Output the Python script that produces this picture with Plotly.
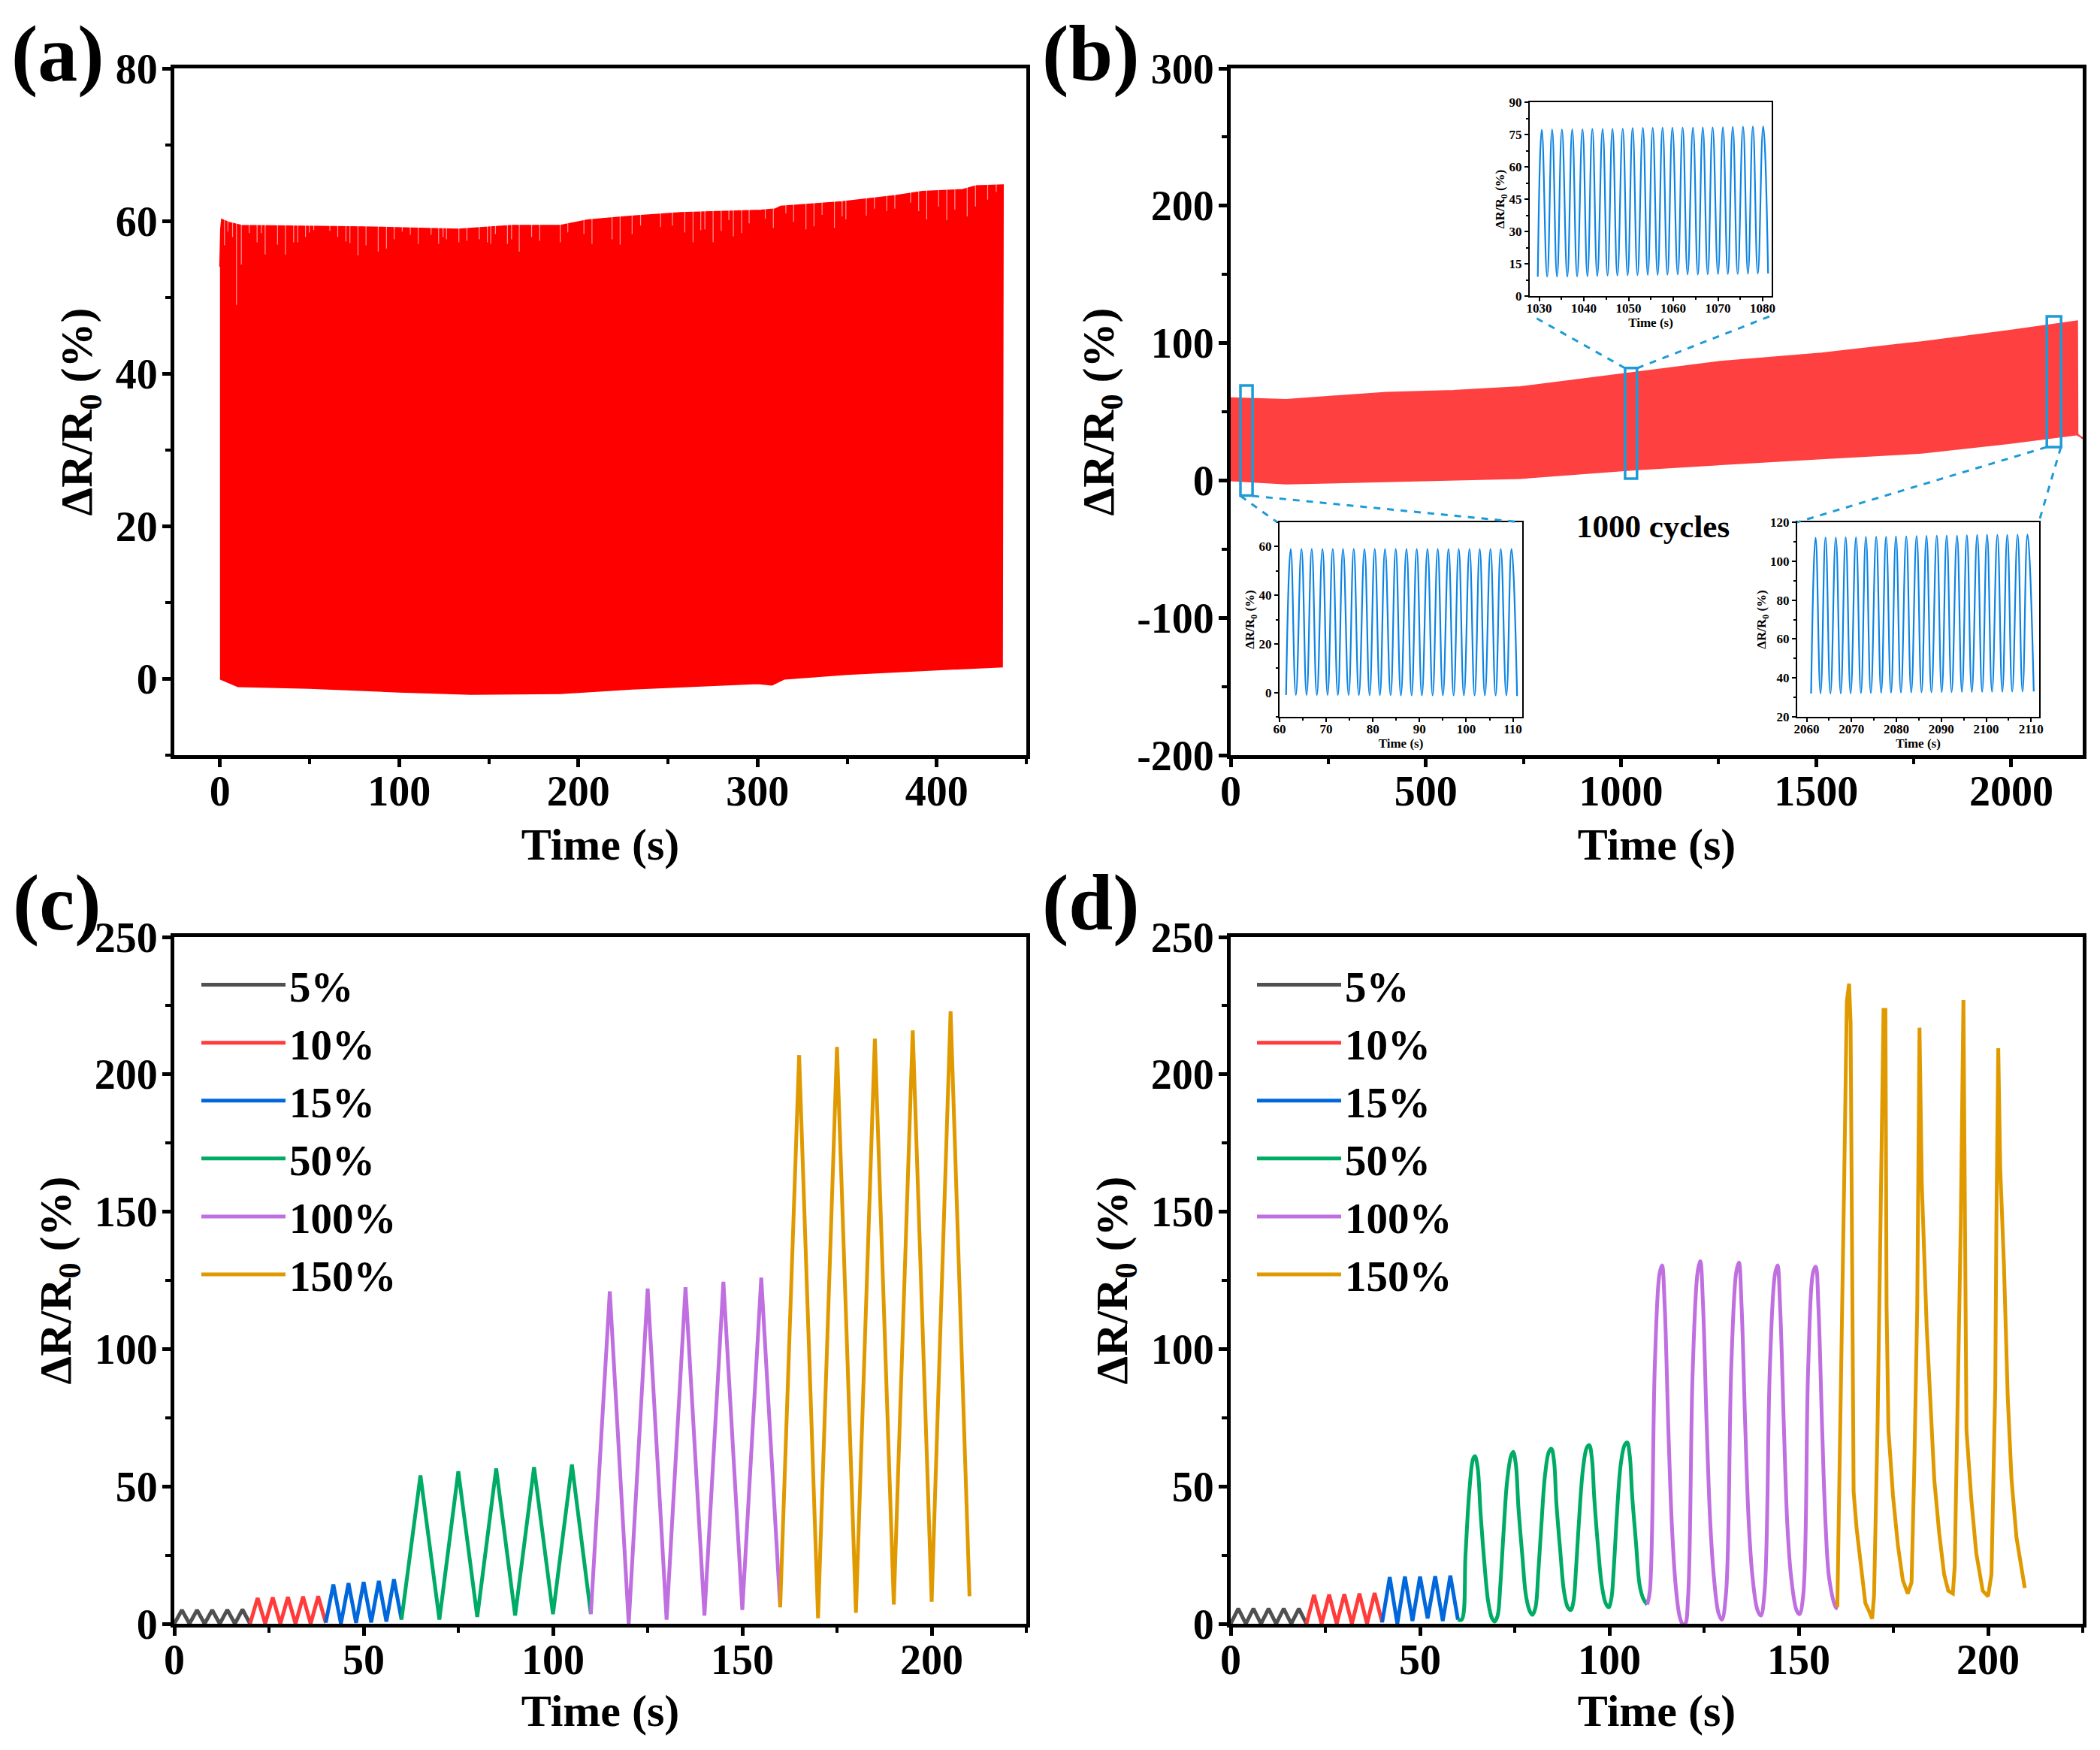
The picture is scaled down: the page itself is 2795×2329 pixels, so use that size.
import plotly.graph_objects as go

W, H = 2795, 2329
PAGE_PAD = 8  # default body margin of the written page
FONT = "Liberation Serif"

# panel (a): envelope of the dense cycling trace
a_top_t = [0, 0.5, 1, 5, 12, 40, 80, 133, 163, 190, 205, 229, 257, 302, 310, 313, 347, 377, 392, 414.6, 422, 437]
a_top_v = [54, 59, 60.2, 59.8, 59.4, 59.3, 59.2, 58.9, 59.4, 59.4, 60.1, 60.6, 61.06, 61.4, 61.56, 61.9, 62.5, 63.3, 63.85, 64.1, 64.6, 64.7]
a_bot_t = [0, 5, 10, 50, 100, 140, 190, 230, 300, 308, 315, 350, 400, 436.5]
a_bot_v = [0, -0.5, -1, -1.2, -1.7, -2, -1.9, -1.3, -0.6, -0.8, 0, 0.6, 1.2, 1.6]
a_dip_t = [2.5, 4.4, 7, 9.2, 11.9, 16.3, 20.7, 23.1, 25.2, 32.1, 36.5, 41.1, 43.4, 47.7, 49.8, 52.3, 61.3, 65.7, 70.3, 72.5,
           77, 81.5, 88.3, 92.9, 97.2, 101.7, 106.2, 110.6, 117.8, 122, 124.5, 126.4, 133.3, 137.8, 144.7, 149.2, 151.1,
           153.7, 160.4, 162.7, 167, 173.9, 178.4, 189.9, 194.1, 203.1, 207.6, 218.8, 223.3, 230, 234.7, 245.9, 252.5,
           259.4, 264, 268.3, 270.6, 275.2, 279.7, 284, 286.5, 291.1, 295.3, 304.3, 308.8, 315.8, 320.1, 327, 331.5, 336,
           342.9, 347.2, 349.3, 360.7, 365.2, 372.1, 376.6, 385.4, 389.9, 394.4, 401.1, 405.6, 410.1, 417, 421.6, 428.4, 433.2]
a_dip_v = [56.8, 58.6, 57.9, 49, 54.3, 58.4, 57.2, 58.4, 55.6, 56.9, 55.6, 57.2, 57.2, 57.9, 58.5, 58.8, 58.7, 57.9, 57.3, 57.1,
           55.5, 56.8, 56, 56.4, 57.6, 58.6, 58.2, 57, 58.2, 57, 57.9, 57.6, 57.2, 57.4, 57.6, 57.2, 57,
           58.3, 57, 57.6, 56, 57.9, 57.4, 57.2, 58.5, 58.3, 57, 57.6, 56.9, 58.3, 59.4, 59.2, 59.4,
           58.5, 57.2, 58.8, 58.9, 57.2, 58.7, 60.1, 58, 58.4, 59.7, 60.3, 59.1, 61, 59.9, 58.9, 59.3, 60.8,
           59.1, 60.6, 60.2, 60.7, 61.6, 61.3, 61.6, 62.4, 61.3, 60.2, 61.9, 60.1, 61.5, 60.6, 61.9, 62.8, 63.8]
a_dip_end = 66

# panel (b): envelope of 1000 cycles
b_top_t = [0, 142, 399, 570, 742, 1028, 1256, 1513, 1770, 1993, 2169, 2170, 2183]
b_top_v = [60, 58.8, 64, 65.3, 68, 78.4, 86.5, 92.6, 100.8, 109, 116, 33, 31]
b_bot_t = [2183, 2170, 1993, 1770, 1513, 1028, 742, 484, 142, 0]
b_bot_v = [30.5, 33.5, 27, 20, 16, 7.8, 1.6, 0, -2.4, 0]

# insets of panel (b)
i1_peak_t = [62.4, 64.7, 66.9, 69.2, 71.4, 73.6, 75.9, 78.2, 80.4, 82.6, 84.9, 87.2, 89.4, 91.7, 93.9, 96.2, 98.4, 100.7, 102.9, 105.2, 107.4, 109.7]
i1_peak_v = [59, 59, 59, 59, 59, 59, 59, 59, 59, 59, 59, 59, 59, 59, 59, 59, 59, 59, 59, 59, 59, 59]
i1_low_t = [61.4, 63.5, 65.8, 68, 70.3, 72.5, 74.8, 77, 79.3, 81.5, 83.8, 86, 88.3, 90.5, 92.8, 95, 97.3, 99.5, 101.8, 104, 106.3, 108.6, 110.9]
i1_low_v = [-1, -1, -1, -1, -1, -1, -1, -1.1, -1.1, -1.1, -1.1, -1.2, -1.2, -1.2, -1.2, -1.2, -1.2, -1.2, -1.2, -1.2, -1.2, -1.2, -1.4]

i2_peak_t = [1030.6, 1032.9, 1035.1, 1037.4, 1039.7, 1041.9, 1044.2, 1046.4, 1048.7, 1050.9, 1053.2, 1055.4, 1057.6, 1059.8, 1062.1, 1064.4, 1066.6, 1068.8, 1071.1, 1073.3, 1075.6, 1077.8, 1080.1]
i2_peak_v = [77.2, 77.3, 77.3, 77.4, 77.4, 77.6, 77.6, 77.7, 77.7, 78, 78.1, 78.1, 78.2, 78.2, 78.2, 78.2, 78.3, 78.3, 78.4, 78.5, 78.6, 78.7, 78.8]
i2_low_t = [1029.7, 1031.8, 1034, 1036.3, 1038.5, 1040.8, 1043, 1045.3, 1047.5, 1049.8, 1052, 1054.3, 1056.5, 1058.7, 1061, 1063.2, 1065.5, 1067.7, 1070, 1072.2, 1074.4, 1076.7, 1078.9, 1081.2]
i2_low_v = [9, 9, 9, 9, 9.1, 9.2, 9.3, 9.5, 9.5, 9.6, 9.7, 9.8, 9.8, 9.9, 10, 10, 10, 10.1, 10.2, 10.2, 10.3, 10.3, 10.4, 10.5]

i3_peak_t = [2062, 2064.2, 2066.5, 2068.7, 2071, 2073.2, 2075.5, 2077.7, 2079.9, 2082.2, 2084.5, 2086.7, 2089, 2091.2, 2093.5, 2095.7, 2098, 2100.2, 2102.5, 2104.7, 2107, 2109.2]
i3_peak_v = [112, 112.1, 112.1, 112.2, 112.2, 112.4, 112.5, 112.5, 112.7, 112.7, 112.9, 113, 113.1, 113.1, 113.1, 113.3, 113.5, 113.6, 113.5, 113.5, 113.6, 113.7]
i3_low_t = [2061, 2063.1, 2065.3, 2067.6, 2069.8, 2072.1, 2074.3, 2076.6, 2078.8, 2081, 2083.3, 2085.6, 2087.8, 2090.1, 2092.3, 2094.6, 2096.8, 2099.1, 2101.3, 2103.6, 2105.8, 2108.1, 2110.6]
i3_low_v = [32, 32, 32, 32, 32, 32.2, 32.2, 32.3, 32.4, 32.5, 32.5, 32.6, 32.6, 32.7, 32.7, 32.8, 32.8, 32.8, 32.9, 32.9, 33, 33, 33]

# panels (c) and (d)
strains = ["5%", "10%", "15%", "50%", "100%", "150%"]
strain_colors = ["#505050", "#FF3B3B", "#0068DC", "#00AB66", "#BF6FE0", "#E09A00"]

c_t = [
    [0, 2, 4, 6, 8, 10, 12, 14, 16, 18, 20],
    [20, 22, 24, 26, 28, 30, 32, 34, 36, 38, 40],
    [40, 42, 44, 46, 48, 50, 52, 54, 56, 58, 60],
    [60, 65, 70, 75, 80, 85, 90, 95, 100, 105, 110],
    [110, 115, 120, 125, 130, 135, 140, 145, 150, 155, 160],
    [160, 165, 170, 175, 180, 185, 190, 195, 200, 205, 210],
]
c_v = [
    [0, 5, 0, 5, 0, 5, 0, 5.1, 0, 5.2, 0],
    [0, 9.4, 0, 9.6, 0, 9.7, 0, 9.9, 0, 10, 0.3],
    [0.5, 14.3, 0, 14.8, 0.3, 15.2, 0.5, 15.6, 0.8, 16.2, 1.5],
    [1.5, 54, 1.5, 55.5, 2.5, 56.5, 3, 57, 3.5, 58, 3.5],
    [3.5, 121, 0, 122, 1.5, 122.5, 3, 124.5, 5, 126, 6],
    [6, 207, 2, 210, 4, 213, 7, 216, 8, 223, 10],
]

d_t = [
    [0, 2, 4, 6, 8, 10, 12, 14, 16, 18, 20],
    [20, 22, 24, 26, 28, 30, 32, 34, 36, 38, 40],
    [40, 42, 44, 46, 48, 50, 52, 54, 56, 58, 60],
    [60, 61, 62, 63, 64, 64.5, 65.2, 66, 67, 68, 69, 69.7, 70.5, 71.2, 72, 73, 74, 74.6, 75.3, 76, 77, 78, 79, 79.7,
     80.5, 81.2, 82, 83, 84, 84.7, 85.4, 86, 87, 88, 89, 89.8, 90.5, 91.2, 92, 93, 94, 94.7, 95.4, 96, 97, 98, 99, 99.8,
     100.5, 101.2, 102, 103, 104, 104.7, 105.4, 106, 107, 108, 109, 110],
    [110, 110.7, 112, 113.2, 113.9, 114.6, 115.6, 116.5, 117.5, 118.5, 119.3, 120, 120.8, 122, 123.3, 124, 124.7, 125.7,
     126.6, 127.6, 128.8, 129.7, 130.8, 132.2, 133.5, 134.2, 134.9, 135.9, 136.8, 137.8, 139.1, 140, 141, 142.4, 143.7,
     144.4, 145.1, 146.1, 147, 148, 149.4, 150.2, 151.2, 152.5, 153.8, 154.5, 155.2, 156.2, 157.1, 158.1, 159.8, 160.3],
    [160.2, 160.7, 161.4, 162, 162.7, 163.3, 163.7, 164.1, 164.5, 165.3, 166.5, 167.6, 168.6, 169.4, 169.9, 170.8, 171.6,
     172.4, 172.9, 173.2, 173.7, 174.9, 176.2, 177.5, 178.8, 179.8, 180.5, 181.3, 181.9, 182.5, 183.8, 184.8, 185.8,
     187.1, 188.4, 189.5, 190.7, 191.2, 192, 192.8, 193.5, 194, 194.3, 195.6, 196.9, 198.6, 200, 200.9, 201.9, 202.2,
     202.7, 203.2, 204.2, 205.2, 206.2, 207.5, 208.8, 209.7],
]
d_v = [
    [0, 5.5, 0, 5.5, 0, 5.5, 0, 5.5, 0, 5.5, 0],
    [0, 10.5, 0, 10.6, 0, 10.8, 0, 11, 0, 11.2, 0.5],
    [0.5, 17, 0, 17.2, 1, 17.2, 2, 17.3, 1, 17.5, 1.5],
    [1.5, 1.5, 25, 48, 60, 61, 57, 40, 22, 8, 2, 0.8, 3, 14, 32, 52, 61, 62.6, 58, 42, 25, 10, 4.5, 3.3,
     6, 18, 35, 54, 62.5, 63.7, 59, 44, 27, 12, 6, 5, 8, 20, 38, 56, 64, 65, 60, 46, 28, 14, 7.5, 6,
     9, 21, 40, 58, 65, 66, 61, 47, 30, 14, 9, 7],
    [7, 12, 94, 127, 130.5, 116, 70, 36, 14, 3, 0, 0, 10, 92, 128, 132, 117, 72,
     38, 17, 4, 1.5, 11, 94, 128, 131.5, 116, 71, 37, 17, 5, 3, 12, 94, 127,
     130.5, 115, 71, 36, 17, 5, 3.5, 10.5, 93, 128, 130, 115.5, 70.5, 36, 16, 6, 5.5],
    [6, 55.5, 115.5, 160.5, 226.5, 233, 219, 115.5, 48, 34.5, 19.5, 7.5, 4.5, 1.8, 10.5, 70.5, 145.5,
     223.5, 223.5, 115.5, 70.5, 46.5, 28.5, 15.8, 11, 15, 55.5, 115.5, 217, 160.5, 108, 78, 52.5,
     33, 18, 12, 11, 21, 78, 145.5, 227, 138, 70.5, 45, 25.5, 12, 10, 18, 85.5, 145.5,
     209.5, 166.5, 130.5, 82.5, 52.5, 31.5, 19.5, 13],
]

b_y_ticks = [-200, -100, 0, 100, 200, 300]
b_y_labels = ["-200", "-100", "0", "100", "200", "300"]

FIG_W = W - PAGE_PAD
FIG_H = H - PAGE_PAD


def px(x):
    return (x - PAGE_PAD) / FIG_W


def py(y):
    return 1 - (y - PAGE_PAD) / FIG_H


def make_axis(span, rng, dtick, minor_dtick, other, tick0=0, size=56, title=None, title_size=60, width=5, ticklen=11,
              label_shift=0, **kw):
    axis = dict(
        domain=list(span),
        range=rng,
        anchor=other,
        automargin=False,
        showline=True,
        linewidth=width,
        linecolor="black",
        mirror=True,
        showgrid=False,
        zeroline=False,
        ticks="outside",
        ticklen=ticklen,
        tickwidth=width,
        tickcolor="black",
        tick0=tick0,
        dtick=dtick,
        ticklabelstandoff=label_shift,
        tickfont=dict(family=FONT, size=size, color="black", weight="bold"),
        minor=dict(
            ticks="outside",
            ticklen=ticklen * 0.6,
            tickwidth=width * 0.8,
            tickcolor="black",
            tick0=tick0,
            dtick=minor_dtick,
        ),
    )
    if title:
        axis["title"] = dict(
            text=title,
            font=dict(family=FONT, size=title_size, color="black", weight="bold"),
            standoff=kw.pop("standoff", 10),
        )
    axis.update(kw)
    return axis


YTITLE = "ΔR/R<sub>0</sub> (%)"
XTITLE = "Time (s)"

fig = go.Figure()

# panel a
fig.add_trace(go.Scatter(
    x=a_top_t + a_bot_t[::-1],
    y=a_top_v + a_bot_v[::-1],
    fill="toself",
    fillcolor="#FF0000",
    mode="lines",
    line=dict(color="#FF0000", width=2),
    xaxis="x",
    yaxis="y",
    showlegend=False,
))
dip_x, dip_y = [], []
for t, v in zip(a_dip_t, a_dip_v):
    dip_x += [t, t, None]
    dip_y += [v, a_dip_end, None]
fig.add_trace(go.Scatter(
    x=dip_x,
    y=dip_y,
    mode="lines",
    line=dict(color="rgba(255,255,255,0.6)", width=1.2),
    xaxis="x",
    yaxis="y",
    showlegend=False,
))

# panel b
fig.add_trace(go.Scatter(
    x=b_top_t + b_bot_t,
    y=b_top_v + b_bot_v,
    fill="toself",
    fillcolor="#FF4040",
    mode="lines",
    line=dict(color="#FF4040", width=2),
    xaxis="x2",
    yaxis="y2",
    showlegend=False,
))

# insets
insets = [
    (i1_low_t, i1_low_v, i1_peak_t, i1_peak_v, "x5", "y5"),
    (i2_low_t, i2_low_v, i2_peak_t, i2_peak_v, "x6", "y6"),
    (i3_low_t, i3_low_v, i3_peak_t, i3_peak_v, "x7", "y7"),
]
for low_t, low_v, peak_t, peak_v, xa, ya in insets:
    xs, ys = [], []
    for k in range(len(low_t)):
        xs.append(low_t[k])
        ys.append(low_v[k])
        if k < len(peak_t):
            xs.append(peak_t[k])
            ys.append(peak_v[k])
    fig.add_trace(go.Scatter(
        x=xs,
        y=ys,
        mode="lines",
        line=dict(color="#0C84E4", width=2.2, shape="spline", smoothing=1.3),
        xaxis=xa,
        yaxis=ya,
        showlegend=False,
    ))

# panels c and d
for i, name in enumerate(strains):
    fig.add_trace(go.Scatter(
        x=c_t[i],
        y=c_v[i],
        name=name,
        mode="lines",
        line=dict(color=strain_colors[i], width=5),
        xaxis="x3",
        yaxis="y3",
        legend="legend",
    ))
for i, name in enumerate(strains):
    shape = "spline" if name in ("50%", "100%") else "linear"
    fig.add_trace(go.Scatter(
        x=d_t[i],
        y=d_v[i],
        name=name,
        mode="lines",
        line=dict(color=strain_colors[i], width=5, shape=shape),
        xaxis="x4",
        yaxis="y4",
        legend="legend2",
    ))

left_x = (px(232), px(1366))
right_x = (px(1638), px(2772))
top_y = (py(1005), py(91))
bottom_y = (py(2161), py(1247))

# selected stretches in panel b and the dashed leader lines to their insets
zoom_boxes = [(25, 56, -11, 69.2), (1010.5, 1041, 1.3, 81.8), (2091, 2127.6, 24.3, 119.5)]
leaders = [
    (1651, 660, 1700, 695),
    (1667, 660, 2025, 695),
    (2163, 490, 2044, 423),
    (2179, 490, 2358, 420),
    (2724, 595, 2392, 695),
    (2743, 595, 2715, 690),
]
shapes = []
for x0, x1, y0, y1 in zoom_boxes:
    shapes.append(dict(type="rect", xref="x2", yref="y2", x0=x0, x1=x1, y0=y0, y1=y1,
                       line=dict(color="#1E9BD7", width=3.5)))
for x0, y0, x1, y1 in leaders:
    shapes.append(dict(type="line", xref="paper", yref="paper", x0=px(x0), y0=py(y0), x1=px(x1), y1=py(y1),
                       line=dict(color="#1E9BD7", width=3, dash="dash")))

annotations = []
for text, x, y in [("(a)", 77, 72), ("(b)", 1452, 72), ("(c)", 76, 1201), ("(d)", 1452, 1201)]:
    annotations.append(dict(
        text=text, x=px(x), y=py(y), xref="paper", yref="paper", showarrow=False,
        xanchor="center", yanchor="middle",
        font=dict(family=FONT, size=106, color="black", weight="bold"),
    ))
annotations.append(dict(
    text="1000 cycles", x=px(2200), y=py(700), xref="paper", yref="paper", showarrow=False,
    xanchor="center", yanchor="middle",
    font=dict(family=FONT, size=43, color="black", weight="bold"),
))

legend_font = dict(family=FONT, size=57, color="black", weight="bold")
inset_style = dict(size=17, title_size=17, width=2, ticklen=5, standoff=1)

fig.update_layout(
    width=FIG_W,
    height=FIG_H,
    margin=dict(l=0, r=0, t=0, b=0),
    paper_bgcolor="white",
    plot_bgcolor="white",
    shapes=shapes,
    annotations=annotations,
    legend=dict(x=px(263), y=py(1267), xanchor="left", yanchor="top", font=legend_font,
                itemwidth=112, bgcolor="rgba(0,0,0,0)", borderwidth=0),
    legend2=dict(x=px(1668), y=py(1267), xanchor="left", yanchor="top", font=legend_font,
                 itemwidth=112, bgcolor="rgba(0,0,0,0)", borderwidth=0),
    xaxis=make_axis(left_x, [-25.5, 450], 100, 50, "y", title=XTITLE, label_shift=-16, standoff=20),
    yaxis=make_axis(top_y, [-10, 80], 20, 10, "x", title=YTITLE, label_shift=-5, standoff=13),
    xaxis2=make_axis(right_x, [0, 2183], 500, 250, "y2", title=XTITLE, label_shift=-16, standoff=20),
    yaxis2=make_axis(top_y, [-200, 300], 100, 50, "x2", tick0=-200, title=YTITLE, label_shift=-5, standoff=13,
                     tickmode="array", tickvals=b_y_ticks, ticktext=b_y_labels),
    xaxis3=make_axis(left_x, [0, 225], 50, 25, "y3", title=XTITLE, label_shift=-16, standoff=17),
    yaxis3=make_axis(bottom_y, [0, 250], 50, 25, "x3", title=YTITLE, label_shift=-5, standoff=13),
    xaxis4=make_axis(right_x, [0, 225], 50, 25, "y4", title=XTITLE, label_shift=-16, standoff=17),
    yaxis4=make_axis(bottom_y, [0, 250], 50, 25, "x4", title=YTITLE, label_shift=-5, standoff=13),
    # insets
    xaxis5=make_axis((px(1703), px(2026)), [60, 112], 10, 5, "y5", title=XTITLE, label_shift=-5, **inset_style),
    yaxis5=make_axis((py(954), py(695)), [-10, 70], 20, 10, "x5", title=YTITLE, tickmode="array", tickvals=[0, 20, 40, 60], **inset_style),
    xaxis6=make_axis((px(2036), px(2358)), [1027.9, 1082], 10, 5, "y6", tick0=1030, title=XTITLE, label_shift=-5, **inset_style),
    yaxis6=make_axis((py(394), py(136)), [0, 90], 15, 7.5, "x6", title=YTITLE, **inset_style),
    xaxis7=make_axis((px(2392), px(2714)), [2057.9, 2111.8], 10, 5, "y7", tick0=2060, title=XTITLE, label_shift=-5, **inset_style),
    yaxis7=make_axis((py(954), py(695)), [20, 120], 20, 10, "x7", tick0=20, title=YTITLE, **inset_style),
)

fig.write_html("out.html")
